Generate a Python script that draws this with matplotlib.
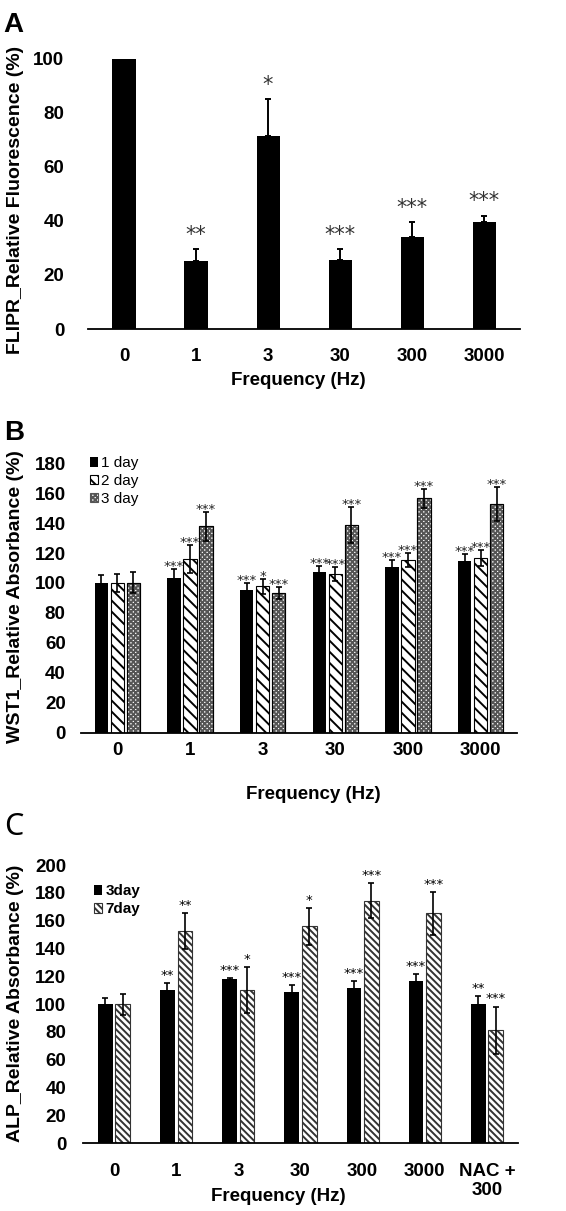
import matplotlib
matplotlib.use("Agg")
import matplotlib.pyplot as plt
import numpy as np

plt.rcParams["font.family"] = ["Liberation Sans", "DejaVu Sans"]
plt.rcParams["hatch.linewidth"] = 1.4

# panel A - FLIPR
freq = ["0", "1", "3", "30", "300", "3000"]
flipr = [100, 25, 71.5, 25.5, 34, 39.5]
flipr_err = [0, 4.5, 13.5, 4, 5.5, 2.3]
flipr_sig = ["", "**", "*", "***", "***", "***"]

# panel B - WST1
wst_days = ["1 day", "2 day", "3 day"]
wst_1 = [100, 103.5, 95.5, 107, 110.5, 114.8]
wst_1_err = [5, 6, 4.3, 4.5, 4.8, 4.8]
wst_2 = [100, 116, 97.8, 106, 115.5, 116.8]
wst_2_err = [6, 9.5, 5, 4.6, 4.6, 5.2]
wst_3 = [100, 137.8, 93.3, 138.8, 156.5, 153]
wst_3_err = [7, 9.8, 4, 12, 6.6, 11.3]
wst_sig_1 = ["", "***", "***", "***", "***", "***"]
wst_sig_2 = ["", "***", "*", "***", "***", "***"]
wst_sig_3 = ["", "***", "***", "***", "***", "***"]

# panel C - ALP
alp_groups = ["0", "1", "3", "30", "300", "3000", "NAC +\n300"]
alp_days = ["3day", "7day"]
alp_3 = [100, 110, 118, 108.8, 111.7, 116.3, 100]
alp_3_err = [4.6, 5, 1, 5, 5, 5.5, 6]
alp_7 = [100, 152.6, 110.2, 155.9, 174.4, 165.4, 81.3]
alp_7_err = [7.5, 13, 16.3, 13.4, 12.7, 15.5, 17]
alp_sig_3 = ["", "**", "***", "***", "***", "***", "**"]
alp_sig_7 = ["", "**", "*", "*", "***", "***", "***"]

FS = 13.5


def style_axis(ax, n, ymax, ystep):
    for s in ["top", "right", "left"]:
        ax.spines[s].set_visible(False)
    ax.spines["bottom"].set_linewidth(1.3)
    ax.set_xlim(-0.5, n - 0.5)
    ax.set_ylim(0, ymax)
    ax.set_yticks(np.arange(0, ymax + 1, ystep))
    ax.tick_params(length=0, labelsize=FS)


def bold_ticks(ax):
    for t in ax.get_xticklabels() + ax.get_yticklabels():
        t.set_fontweight("bold")


def add_stars(ax, xs, tops, labels, size, lift, color):
    for x, t, s in zip(xs, tops, labels):
        if s:
            ax.annotate(s, (x, t), xytext=(0, lift), textcoords="offset points",
                        ha="center", va="baseline", fontsize=size,
                        family="DejaVu Sans", color=color, annotation_clip=False)


def labels(ax, ylab, ycoords, xcoords):
    ax.set_ylabel(ylab, fontsize=14, fontweight="bold")
    ax.set_xlabel("Frequency (Hz)", fontsize=FS, fontweight="bold")
    ax.yaxis.set_label_coords(*ycoords)
    ax.xaxis.set_label_coords(*xcoords)
    ax.yaxis.label.set_va("center")
    ax.xaxis.label.set_va("center")


fig = plt.figure(figsize=(5.66, 12.11), dpi=100)

# ---------- A ----------
axA = fig.add_axes([0.1555, 0.7283, 0.7633, 0.2232])
xa = np.arange(len(freq))
axA.bar(xa, flipr, width=0.32, color="black")
axA.errorbar(xa, flipr, yerr=[np.zeros(len(flipr)), flipr_err], fmt="none",
             ecolor="black", elinewidth=1.4, capsize=2.5, capthick=1.4)
style_axis(axA, len(freq), 100, 20)
axA.set_xticks(xa, freq)
axA.tick_params(axis="x", pad=13.5)
axA.tick_params(axis="y", pad=17)
bold_ticks(axA)
add_stars(axA, xa, np.array(flipr) + np.array(flipr_err), flipr_sig, 15, 6.3, "#333333")
labels(axA, "FLIPR_Relative Fluorescence (%)", (-0.169, 0.477), (0.486, -0.189))
fig.text(0.006, 0.979, "A", fontsize=20, fontweight="bold", va="center", ha="left")

# ---------- B ----------
axB = fig.add_axes([0.1431, 0.3950, 0.7703, 0.2225])
xb = np.arange(len(freq))
bw, step = 0.18, 0.22
b_series = [(wst_1, wst_1_err, wst_sig_1, dict(color="black")),
            (wst_2, wst_2_err, wst_sig_2, dict(facecolor="white", edgecolor="black", hatch="\\\\\\")),
            (wst_3, wst_3_err, wst_sig_3, dict(facecolor="white", edgecolor="#555555", hatch="xxxxxxx"))]
for i, (vals, err, sig, kw) in enumerate(b_series):
    pos = xb + (i - 1) * step
    axB.bar(pos, vals, width=bw, linewidth=0.8, label=wst_days[i], **kw)
    if i == 2:
        axB.bar(pos, vals, width=bw, linewidth=0.8, fill=False, edgecolor="black")
    axB.errorbar(pos, vals, yerr=err, fmt="none", ecolor="black",
                 elinewidth=1.2, capsize=2.5, capthick=1.2)
    add_stars(axB, pos, np.array(vals) + np.array(err), sig, 9.5, -0.8, "#222222")
style_axis(axB, len(freq), 180, 20)
axB.set_xticks(xb, freq)
axB.tick_params(axis="x", pad=6.5)
axB.tick_params(axis="y", pad=11)
bold_ticks(axB)
labels(axB, "WST1_Relative Absorbance (%)", (-0.151, 0.504), (0.532, -0.231))
axB.legend(loc="upper left", bbox_to_anchor=(0.02, 1.025), frameon=False, fontsize=11,
           handlelength=0.55, handleheight=0.55, handletextpad=0.2,
           labelspacing=0.25, borderpad=0, borderaxespad=0)
fig.text(0.008, 0.6425, "B", fontsize=20, fontweight="bold", va="center", ha="left")

# ---------- C ----------
axC = fig.add_axes([0.1466, 0.0559, 0.7686, 0.2298])
xc = np.arange(len(alp_groups))
cw, cstep = 0.236, 0.28
c_series = [(alp_3, alp_3_err, alp_sig_3, dict(color="black")),
            (alp_7, alp_7_err, alp_sig_7, dict(facecolor="white", edgecolor="#333333", hatch="\\\\\\\\\\"))]
for i, (vals, err, sig, kw) in enumerate(c_series):
    pos = xc + (i - 0.5) * cstep
    axC.bar(pos, vals, width=cw, linewidth=0.8, label=alp_days[i], **kw)
    axC.errorbar(pos, vals, yerr=err, fmt="none", ecolor="black",
                 elinewidth=1.2, capsize=2.5, capthick=1.2)
    add_stars(axC, pos, np.array(vals) + np.array(err), sig, 9.5, 2.9, "black")
style_axis(axC, len(alp_groups), 200, 20)
axC.set_xticks(xc, alp_groups)
axC.tick_params(axis="x", pad=14)
axC.tick_params(axis="y", pad=12)
bold_ticks(axC)
for t in axC.get_xticklabels():
    t.set_linespacing(1.2)
labels(axC, "ALP_Relative Absorbance (%)", (-0.156, 0.504), (0.45, -0.192))
axC.legend(loc="upper left", bbox_to_anchor=(0.025, 0.93), frameon=False,
           prop={"size": 11, "weight": "bold"},
           handlelength=0.55, handleheight=0.55, handletextpad=0.2,
           labelspacing=0.25, borderpad=0, borderaxespad=0)
fig.text(0.008, 0.3175, "C", fontsize=22, va="center", ha="left", family="Noto Sans")

fig.savefig("out.png", dpi=100)
